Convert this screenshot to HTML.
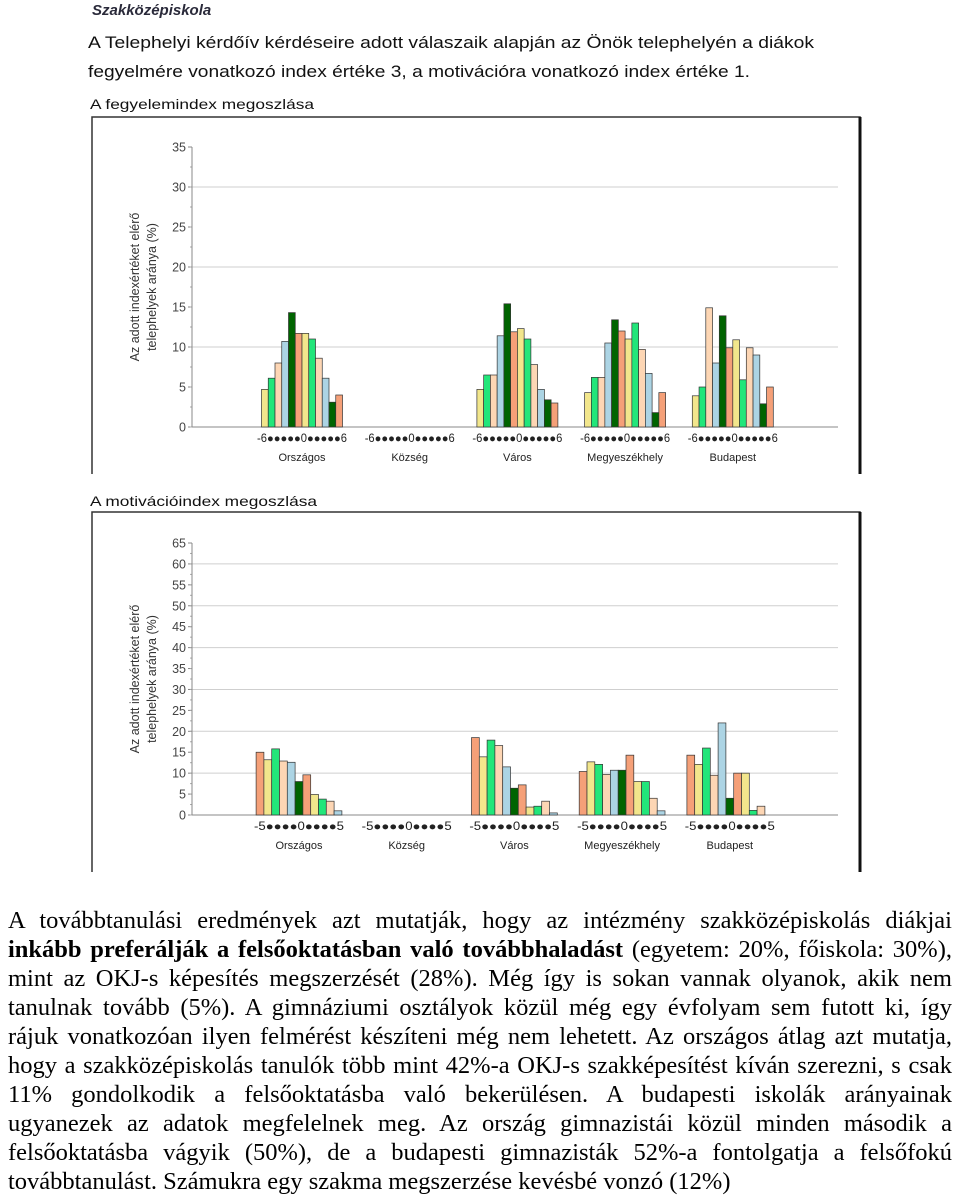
<!DOCTYPE html>
<html><head><meta charset="utf-8"><style>
body{margin:0;width:960px;height:1198px;background:#fff;overflow:hidden;position:relative}
svg{position:absolute;left:0;top:0}
#para{position:absolute;left:8px;top:906px;width:944px;font-family:"Liberation Serif",serif;font-size:24.5px;line-height:29px;color:#000}
#para div{text-align:justify;text-align-last:justify;white-space:nowrap;overflow:visible}
#para div.last{text-align-last:left}
</style></head><body>
<svg width="960" height="890" font-family="Liberation Sans, sans-serif">
<text x="92" y="15" font-size="15" font-weight="bold" font-style="italic" fill="#2a2a3a">Szakközépiskola</text>
<text x="88" y="48" font-size="17" textLength="726" lengthAdjust="spacingAndGlyphs" fill="#111">A Telephelyi kérdőív kérdéseire adott válaszaik alapján az Önök telephelyén a diákok</text>
<text x="88" y="77" font-size="17" textLength="662" lengthAdjust="spacingAndGlyphs" fill="#111">fegyelmére vonatkozó index értéke 3, a motivációra vonatkozó index értéke 1.</text>
<text x="90" y="109" font-size="14" textLength="224" lengthAdjust="spacingAndGlyphs" fill="#111">A fegyelemindex megoszlása</text>
<text x="90" y="506" font-size="14" textLength="227" lengthAdjust="spacingAndGlyphs" fill="#111">A motivációindex megoszlása</text>
<g id="c1"></g>
<g id="c2"></g>
</svg>
<div id="para">
<div>A továbbtanulási eredmények azt mutatják, hogy az intézmény szakközépiskolás diákjai</div>
<div><b>inkább preferálják a felsőoktatásban való továbbhaladást</b> (egyetem: 20%, főiskola: 30%),</div>
<div>mint az OKJ-s képesítés megszerzését (28%). Még így is sokan vannak olyanok, akik nem</div>
<div>tanulnak tovább (5%). A gimnáziumi osztályok közül még egy évfolyam sem futott ki, így</div>
<div>rájuk vonatkozóan ilyen felmérést készíteni még nem lehetett. Az országos átlag azt mutatja,</div>
<div>hogy a szakközépiskolás tanulók több mint 42%-a OKJ-s szakképesítést kíván szerezni, s csak</div>
<div>11% gondolkodik a felsőoktatásba való bekerülésen. A budapesti iskolák arányainak</div>
<div>ugyanezek az adatok megfelelnek meg. Az ország gimnazistái közül minden második a</div>
<div>felsőoktatásba vágyik (50%), de a budapesti gimnazisták 52%-a fontolgatja a felsőfokú</div>
<div class="last">továbbtanulást. Számukra egy szakma megszerzése kevésbé vonzó (12%)</div>
</div>
<script>
const groups = ["Országos","Község","Város","Megyeszékhely","Budapest"];
const discTicks = [0,5,10,15,20,25,30,35];
const discRangeLabel = "-6●●●●●0●●●●●6";
const discOrszagos = [4.7,6.1,8,10.7,14.3,11.7,11.7,11,8.6,6.1,3.1,4];
const discKozseg = [];
const discVaros = [4.7,6.5,6.5,11.4,15.4,11.9,12.3,11,7.8,4.7,3.4,3.0];
const discMegye = [4.3,6.2,6.2,10.5,13.4,12,11,13,9.7,6.7,1.8,4.3];
const discBudapest = [3.9,5,14.9,8,13.9,9.9,10.9,5.9,9.9,9,2.9,5];
const motTicks = [0,5,10,15,20,25,30,35,40,45,50,55,60,65];
const motRangeLabel = "-5●●●●0●●●●5";
const motOrszagos = [15,13.2,15.8,12.9,12.6,8,9.6,4.9,3.8,3.3,1];
const motKozseg = [];
const motVaros = [18.5,13.9,17.9,16.6,11.5,6.4,7.2,1.9,2.1,3.3,0.5];
const motMegye = [10.4,12.7,12.1,9.7,10.7,10.7,14.3,8,8,4,1];
const motBudapest = [14.3,12.1,16,9.5,22,4,10,10,1.1,2.1,0];
const palette = ["#f5a078","#f2e68c","#22e67a","#fdd6b4","#acd4e4","#006400"];
const NS="http://www.w3.org/2000/svg";
function mk(parent,tag,attrs){const e=document.createElementNS(NS,tag);for(const k in attrs)e.setAttribute(k,attrs[k]);parent.appendChild(e);return e;}
function chart(g,cfg){
  const x0=192,x1=838,yb=cfg.yb,yt=cfg.yt,max=cfg.ticks[cfg.ticks.length-1];
  const y=v=>yb-(v/max)*(yb-yt);
  const cx=i=>cfg.c0+i*107.7;
  let f=mk(g,'path',{d:`M92,${cfg.ft+cfg.fh} V${cfg.ft} H860 V${cfg.ft+cfg.fh}`,fill:'none',stroke:'#333','stroke-width':1.5});
  
  
  mk(g,'line',{x1:860,y1:cfg.ft,x2:860,y2:cfg.ft+cfg.fh,stroke:'#111','stroke-width':3});
  cfg.ticks.forEach(t=>{
    if(t>0&&t%10===0){let gl=mk(g,'line',{x1:x0,x2:x1,y1:y(t),y2:y(t),stroke:'#cfcfcf'});
      
      }
    mk(g,'line',{x1:x0-4,x2:x0,y1:y(t),y2:y(t),stroke:'#888'});
    let tl=mk(g,'text',{x:186,y:y(t)+4.5,'font-size':12.5,'text-anchor':'end',fill:'#444'});tl.textContent=t;
    
    
  });
  for(let t=0;t<max;t+=cfg.ticks[1]/2){mk(g,'line',{x1:x0-2,x2:x0,y1:y(t),y2:y(t),stroke:'#aaa'});}
  mk(g,'line',{x1:x0,x2:x0,y1:yt,y2:yb,stroke:'#888'});
  mk(g,'line',{x1:x0,x2:x1,y1:yb,y2:yb,stroke:'#888'});
  const ty=(yt+yb)/2;
  let t1=mk(g,'text',{x:0,y:0,'font-size':12.5,'text-anchor':'middle',fill:'#333',transform:`translate(139,${ty}) rotate(-90)`});t1.textContent='Az adott indexértéket elérő';
  
  
  let t2=mk(g,'text',{x:0,y:0,'font-size':12.5,'text-anchor':'middle',fill:'#333',transform:`translate(156,${ty}) rotate(-90)`});t2.textContent='telephelyek aránya  (%)';
  
  
  cfg.series.forEach((vals,i)=>{
    const n=cfg.n,bw=cfg.bw,start=cx(i)-n*bw/2;
    vals.forEach((v,j)=>{
      let r=mk(g,'rect',{x:start+j*bw,y:y(v),width:bw,height:yb-y(v),fill:palette[(j+cfg.off)%6],stroke:'#333','stroke-width':0.7});
      
      
    });
    let rl=mk(g,'text',{x:cx(i),y:yb+15,'font-size':11.5,'text-anchor':'middle',fill:'#222',textLength:90,lengthAdjust:'spacingAndGlyphs'});rl.textContent=cfg.range;
    
    
    let gn=mk(g,'text',{x:cx(i),y:yb+34,'font-size':11,'text-anchor':'middle',fill:'#222'});gn.textContent=groups[i];
    
    
  });
}
chart(document.getElementById('c1'),{yb:427,yt:147,ft:117,fh:357,ticks:discTicks,range:discRangeLabel,c0:302,n:12,bw:6.75,off:1,
  series:[discOrszagos,discKozseg,discVaros,discMegye,discBudapest]});
chart(document.getElementById('c2'),{yb:815,yt:543,ft:512,fh:360,ticks:motTicks,range:motRangeLabel,c0:299,n:11,bw:7.8,off:0,
  series:[motOrszagos,motKozseg,motVaros,motMegye,motBudapest]});
</script>
</body></html>
